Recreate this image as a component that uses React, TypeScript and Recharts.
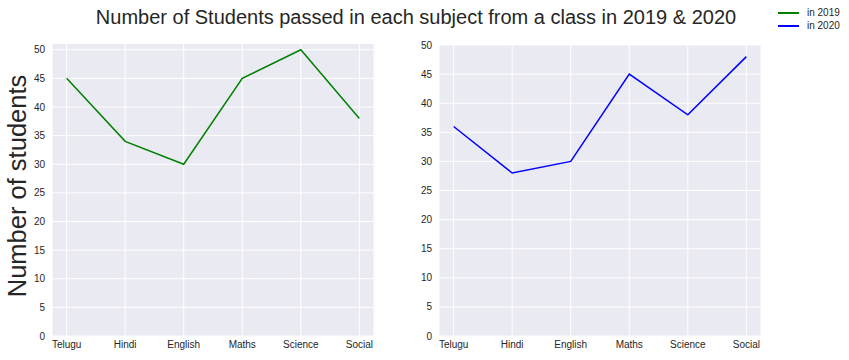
import React from 'react';
import { LineChart, Line, XAxis, YAxis, CartesianGrid } from 'recharts';

const subjects = ['Telugu', 'Hindi', 'English', 'Maths', 'Science', 'Social'];
const passed2019 = [45, 34, 30, 45, 50, 38];
const passed2020 = [36, 28, 30, 45, 38, 48];
const yTicks = [0, 5, 10, 15, 20, 25, 30, 35, 40, 45, 50];
const xTicks = subjects.map((_, i) => i);

const FONT = '"Liberation Sans", Arial, sans-serif';
const TEXT = '#262626';
const BG = '#EAEAF2';

const data2019 = subjects.map((s, i) => ({ i, name: s, value: passed2019[i] }));
const data2020 = subjects.map((s, i) => ({ i, name: s, value: passed2020[i] }));

const tick = { fill: TEXT, fontSize: 10, fontFamily: FONT };

const Panel = ({ data, color, yMax, margin, width }: any) => (
  <LineChart width={width} height={360} data={data} margin={margin}>
    <CartesianGrid fill={BG} stroke="#ffffff" strokeWidth={1} horizontalValues={yTicks} />
    <XAxis
      type="number"
      dataKey="i"
      domain={[-0.25, 5.25]}
      ticks={xTicks}
      tickFormatter={(v: number) => subjects[v]}
      axisLine={false}
      tickLine={false}
      tickSize={3}
      tickMargin={2}
      height={20}
      interval={0}
      tick={tick}
    />
    <YAxis
      type="number"
      domain={[0, yMax]}
      ticks={yTicks}
      axisLine={false}
      tickLine={false}
      tickSize={5}
      tickMargin={2}
      width={30}
      tick={tick}
    />
    <Line type="linear" dataKey="value" stroke={color} strokeWidth={1.5} dot={false} isAnimationActive={false} />
  </LineChart>
);

export default function App() {
  return (
    <div style={{ position: 'absolute', left: 0, top: 0, width: 849, height: 360, background: '#fff', fontFamily: FONT }}>
      <div style={{ position: 'absolute', left: 0, top: 0 }}>
        <Panel data={data2019} color="#008000" yMax={51} width={400} margin={{ top: 44, right: 26, bottom: 4, left: 22 }} />
      </div>
      <div style={{ position: 'absolute', left: 400, top: 0 }}>
        <Panel data={data2020} color="#0000ff" yMax={50} width={449} margin={{ top: 45, right: 88, bottom: 4, left: 9 }} />
      </div>
      <div style={{ position: 'absolute', left: 0, top: 6, width: 832, textAlign: 'center', fontSize: 20, color: TEXT, whiteSpace: 'nowrap' }}>
        Number of Students passed in each subject from a class in 2019 &amp; 2020
      </div>
      <div
        style={{
          position: 'absolute', left: 17, top: 186, fontSize: 25.5, lineHeight: '26px', color: TEXT, whiteSpace: 'nowrap',
          transform: 'translate(-50%, -50%) rotate(-90deg)',
        }}
      >
        Number of students
      </div>
      <div style={{ position: 'absolute', left: 778, top: 6, fontSize: 10, color: TEXT, lineHeight: '13px' }}>
        {[{ label: 'in 2019', c: '#008000' }, { label: 'in 2020', c: '#0000ff' }].map((e) => (
          <div key={e.label} style={{ display: 'flex', alignItems: 'center' }}>
            <span style={{ display: 'inline-block', width: 21, height: 2, background: e.c, marginRight: 8 }} />
            <span>{e.label}</span>
          </div>
        ))}
      </div>
    </div>
  );
}
